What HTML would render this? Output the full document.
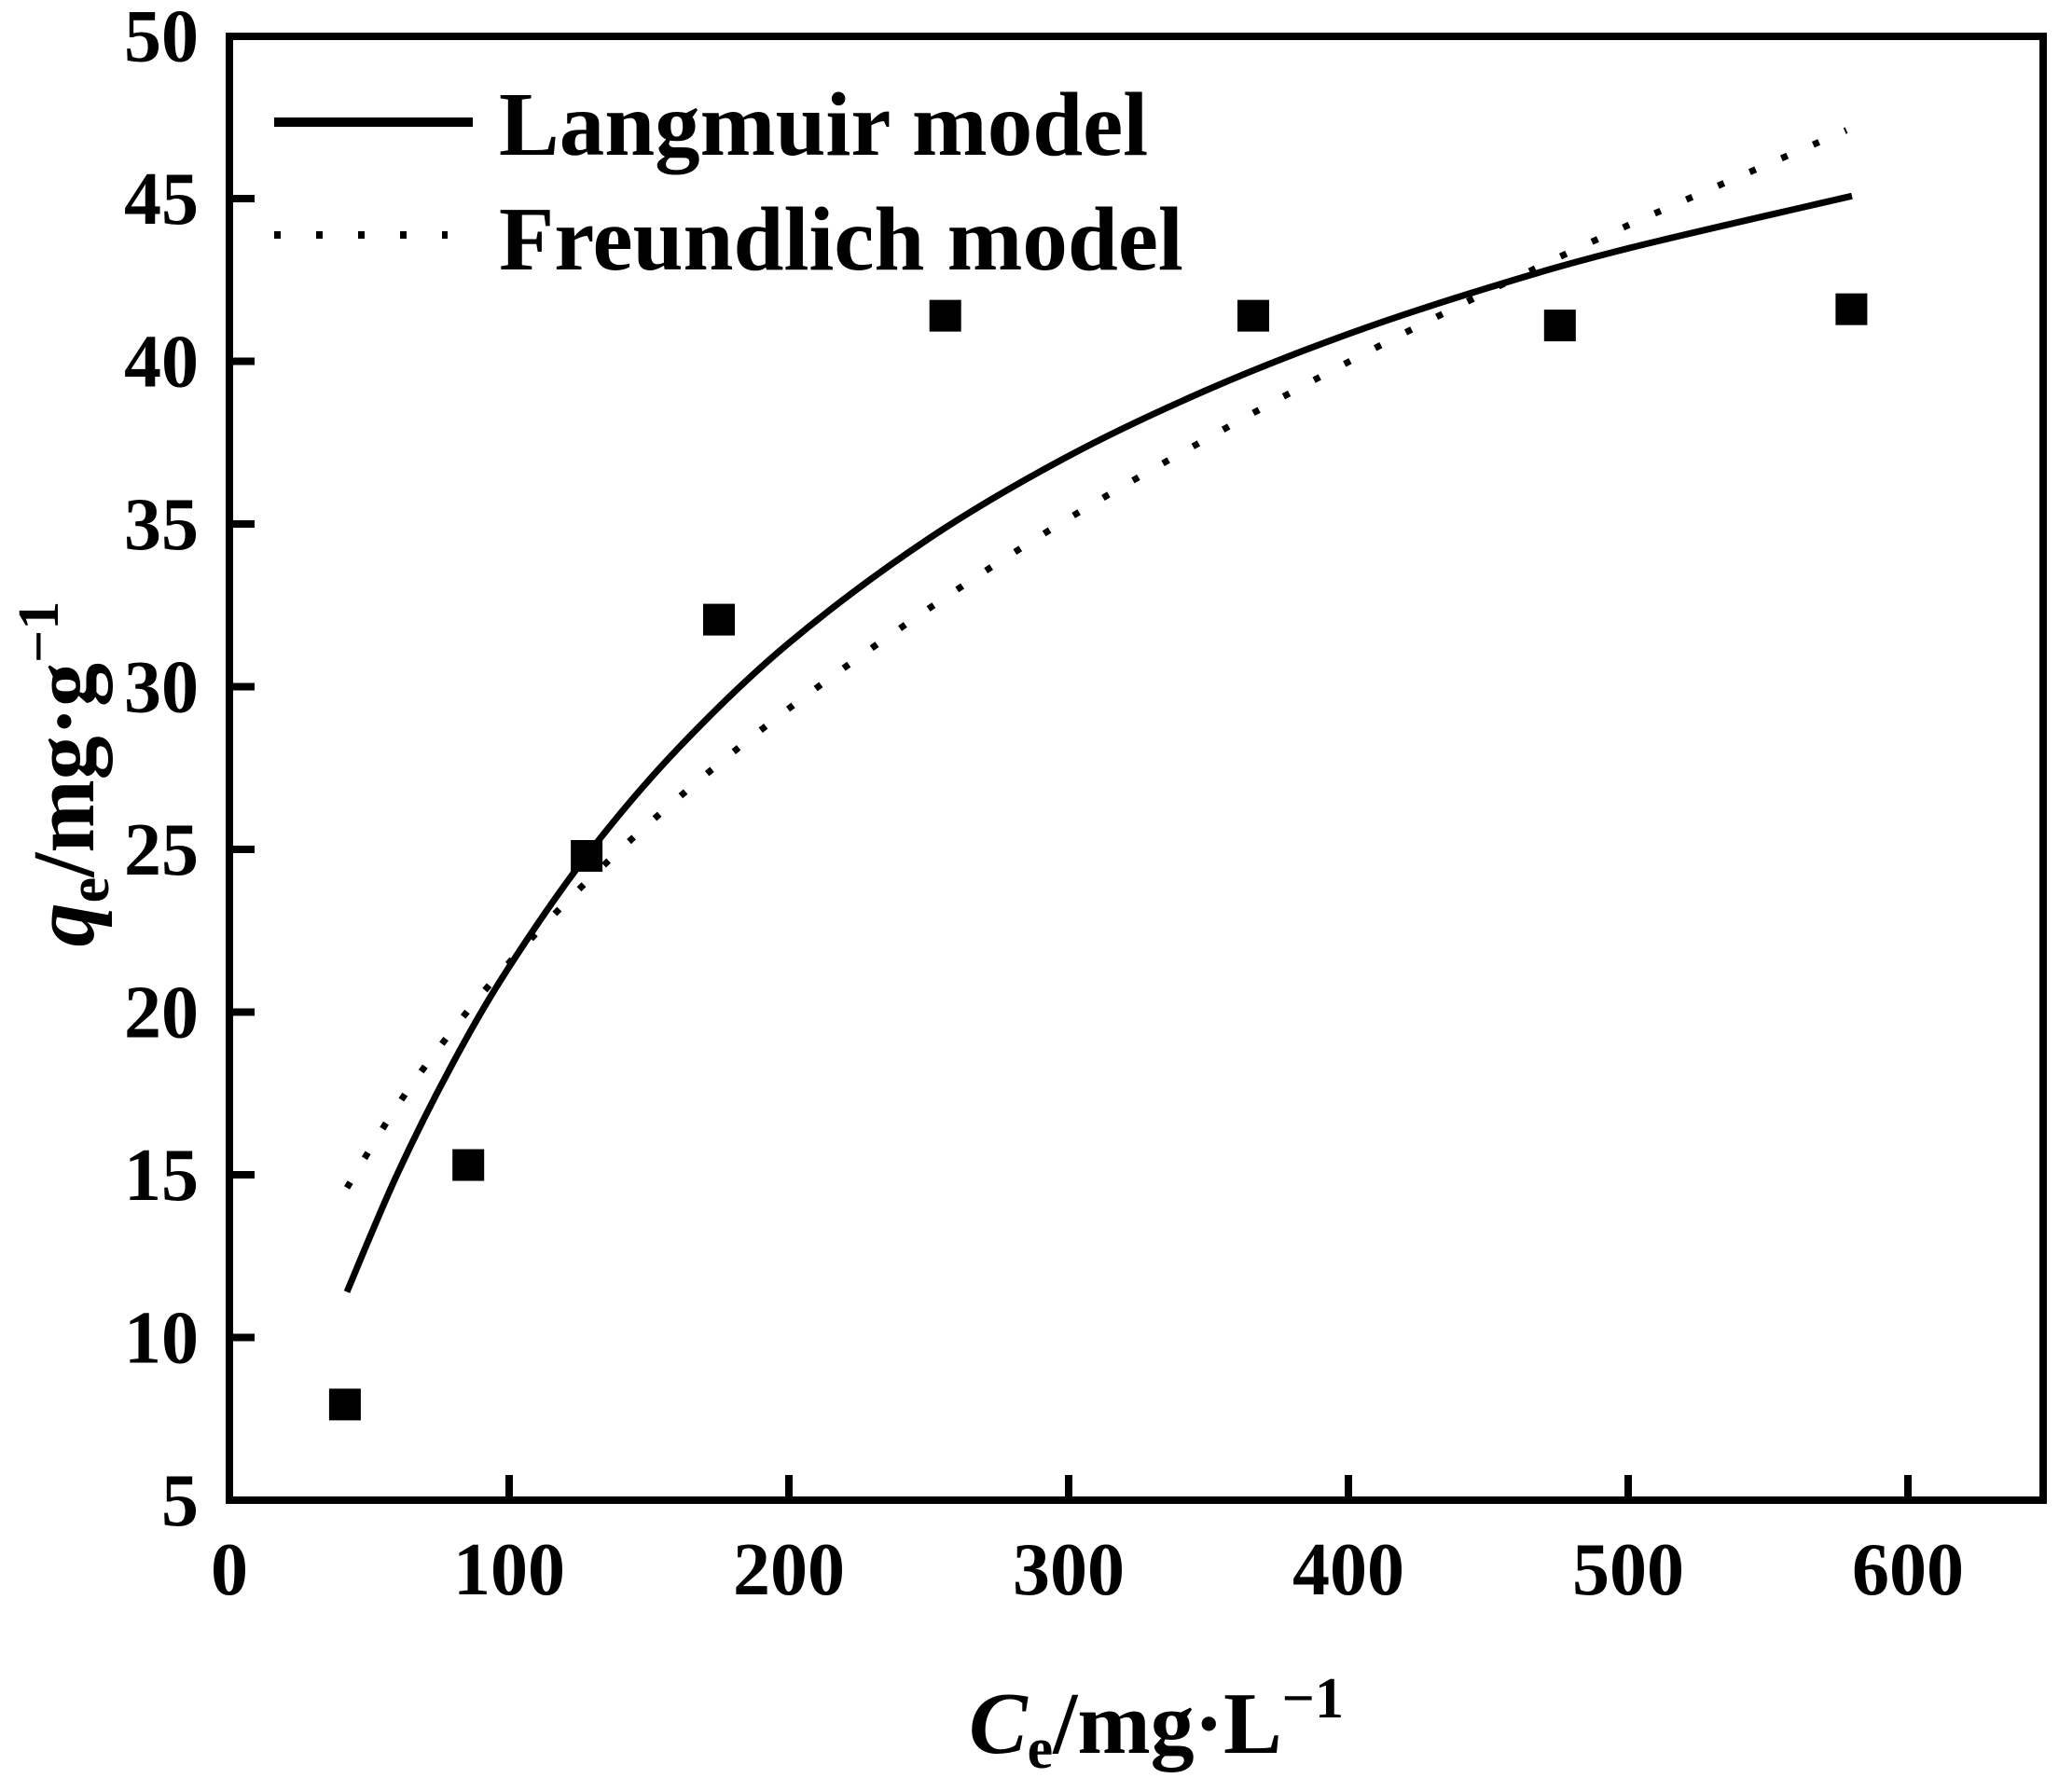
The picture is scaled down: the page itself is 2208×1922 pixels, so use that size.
<!DOCTYPE html>
<html><head><meta charset="utf-8"><style>
html,body{margin:0;padding:0;background:#fff;}
svg{display:block;font-family:"Liberation Serif",serif;font-weight:bold;}
</style></head><body>
<svg id="chart" width="2208" height="1922" viewBox="0 0 2208 1922" xmlns="http://www.w3.org/2000/svg">
<rect x="246" y="39" width="1945" height="1570" fill="none" stroke="#000" stroke-width="8"/>
<g id="ticks"></g>
<g id="curves"></g>
<g id="points"></g>
<g>
<line x1="294" y1="131" x2="507" y2="131" stroke="#000" stroke-width="10"/>
<text x="535" y="166" font-size="97">Langmuir model</text>
<line x1="294" y1="252" x2="480" y2="252" stroke="#000" stroke-width="8" stroke-dasharray="7 38"/>
<text x="535" y="289" font-size="97">Freundlich model</text>
</g>
<text x="1240" y="1880" font-size="94" text-anchor="middle"><tspan font-style="italic">C</tspan><tspan font-size="62" dy="16">e</tspan><tspan dy="-16">/mg·L</tspan><tspan font-size="62" dy="-38">−1</tspan></text>
<text transform="translate(100,830) rotate(-90)" font-size="94" text-anchor="middle"><tspan font-style="italic">q</tspan><tspan font-size="62" dy="16">e</tspan><tspan dy="-16">/mg·g</tspan><tspan font-size="62" dy="-38">−1</tspan></text>
</svg>
<script>
const xTicks = [0,100,200,300,400,500,600];
const yTicks = [5,10,15,20,25,30,35,40,45,50];
const dataCe = [41.3,85.4,127.7,175,255.9,366,475.6,579.8];
const dataQe = [7.94,15.3,24.8,32.06,41.4,41.4,41.1,41.6];
const langC = [42,60,80,100,128,160,200,250,300,350,400,450,500,580];
const langQ = [11.4,15.02,18.45,21.39,24.84,28.07,31.34,34.55,37.09,39.14,40.84,42.26,43.47,45.08];
const freuC = [42,60,80,100,128,160,200,250,300,350,400,450,500,578];
const freuQ = [14.6,17.12,19.47,21.52,24.03,26.55,29.33,32.40,35.17,37.65,39.98,42.15,44.18,47.1];

const NS='http://www.w3.org/2000/svg';
const X0=246, XPER=3.0, Y0=1609, YPER=34.9;
function sx(v){return X0+v*XPER;}
function sy(v){return Y0-(v-5)*YPER;}
function mk(tag,attrs,parent){const e=document.createElementNS(NS,tag);for(const k in attrs)e.setAttribute(k,attrs[k]);parent.appendChild(e);return e;}
const tg=document.getElementById('ticks');
xTicks.forEach(v=>{
  if(v>0){const t=mk('line',{x1:sx(v),x2:sx(v),y1:Y0,y2:Y0-27,stroke:'#000','stroke-width':8},tg);
  
  }
  const l=mk('text',{x:sx(v),y:1710,'font-size':80,'text-anchor':'middle'},tg);
  l.textContent=v;
  
  
});
yTicks.forEach(v=>{
  if(v>5&&v<50){const t=mk('line',{x1:X0,x2:X0+27,y1:sy(v),y2:sy(v),stroke:'#000','stroke-width':8},tg);
  
  }
  const l=mk('text',{x:213,y:sy(v)+27,'font-size':80,'text-anchor':'end'},tg);
  l.textContent=v;
  
  
});
function smooth(xs,ys){
  const p=xs.map((x,i)=>[sx(x),sy(ys[i])]);
  let d='M'+p[0][0]+','+p[0][1];
  for(let i=0;i<p.length-1;i++){
    const p0=p[Math.max(0,i-1)],p1=p[i],p2=p[i+1],p3=p[Math.min(p.length-1,i+2)];
    const c1=[p1[0]+(p2[0]-p0[0])/6,p1[1]+(p2[1]-p0[1])/6];
    const c2=[p2[0]-(p3[0]-p1[0])/6,p2[1]-(p3[1]-p1[1])/6];
    d+=' C'+c1+' '+c2+' '+p2;
  }
  return d;
}
const cg=document.getElementById('curves');
const lp=mk('path',{d:smooth(langC,langQ),fill:'none',stroke:'#000','stroke-width':7},cg);


const fp=mk('path',{d:smooth(freuC,freuQ),fill:'none',stroke:'#000','stroke-width':7,'stroke-dasharray':'7 30'},cg);


const pg=document.getElementById('points');
dataCe.forEach((c,i)=>{
  const r=mk('rect',{x:sx(c)-17,y:sy(dataQe[i])-17,width:34,height:34,fill:'#000'},pg);
  
  
});
</script>
</body></html>
